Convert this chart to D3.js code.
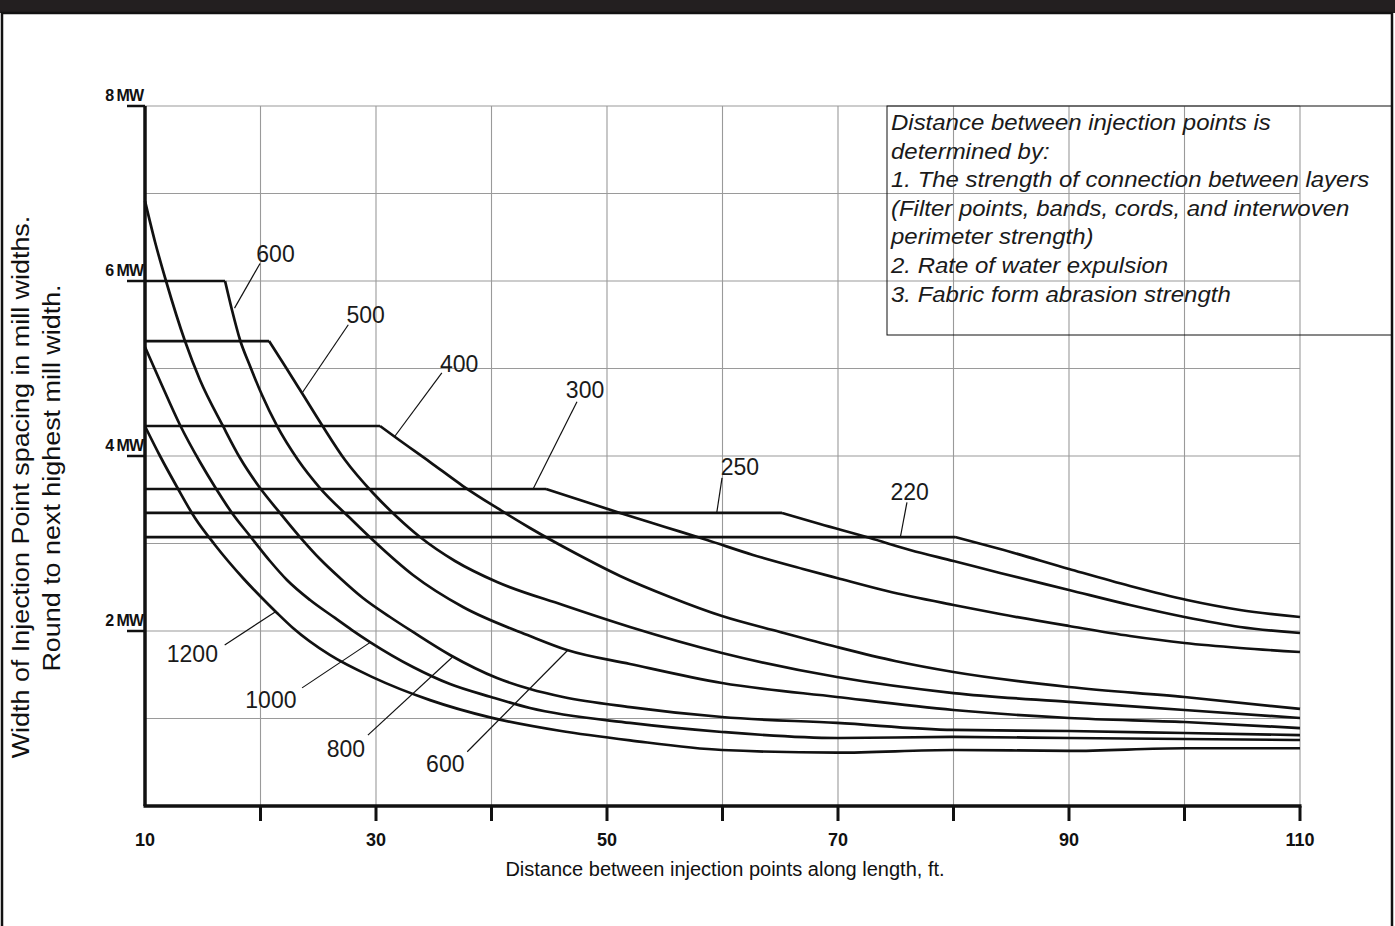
<!DOCTYPE html>
<html>
<head>
<meta charset="utf-8">
<script src="https://cdn.jsdelivr.net/npm/d3@7"></script>
<style>
  html, body { margin: 0; padding: 0; background: #fff; }
  svg { display: block; }
  text { font-family: "Liberation Sans", Arial, Helvetica, sans-serif; }
</style>
</head>
<body>
<svg id="chart" width="1395" height="926"></svg>
<script>
// ---------------- DATA (x = distance ft, y = width in mill widths) ----------------
const xTickValues = [10, 20, 30, 40, 50, 60, 70, 80, 90, 100, 110];
const xTickLabels = ["10", "", "30", "", "50", "", "70", "", "90", "", "110"];
const yTickValues = [2, 4, 6, 8];
const yTickLabels = ["2 MW", "4 MW", "6 MW", "8 MW"];
const yGridValues = [1, 2, 3, 4, 5, 6, 7, 8];

// series with a flat plateau (first two points are the plateau)
const s220 = [[10,3.074],[80.13,3.074],[84.03,2.937],[90,2.709],[95.28,2.514],[100.22,2.354],[104.81,2.24],[110,2.16]];
const s250 = [[10,3.349],[65.15,3.349],[68.44,3.223],[72.77,3.063],[76.23,2.926],[80,2.8],[84.03,2.663],[90,2.469],[95.28,2.297],[100,2.16],[104.81,2.046],[110,1.977]];
const s300 = [[10,3.623],[44.72,3.623],[47.66,3.497],[51.13,3.349],[55.02,3.189],[58.66,3.04],[62.64,2.869],[66.97,2.709],[69.91,2.606],[74.24,2.457],[80,2.297],[84.03,2.194],[90,2.057],[95.28,1.943],[100,1.863],[104.81,1.806],[110,1.76]];
const s400 = [[10,4.343],[30.35,4.343],[31.65,4.217],[34.68,3.931],[37.53,3.657],[40.48,3.406],[43.33,3.177],[47.23,2.891],[51.13,2.629],[55.45,2.389],[59.96,2.171],[64.98,1.989],[69.91,1.817],[74.94,1.657],[80,1.531],[90,1.36],[100,1.246],[110,1.109]];
const s500 = [[10,5.314],[20.74,5.314],[22.12,5.029],[23.59,4.72],[25.32,4.354],[27.32,3.954],[29.74,3.577],[31.82,3.303],[33.81,3.074],[36.84,2.8],[40.48,2.56],[46.19,2.297],[51.99,2.046],[59.96,1.749],[69.91,1.474],[80,1.291],[90,1.189],[100,1.097],[110,1.006]];
const s600 = [[10,6.0],[16.93,6.0],[17.53,5.669],[18.23,5.326],[19.09,5.029],[20.13,4.697],[21.43,4.343],[23.25,3.954],[25.15,3.634],[27.75,3.291],[29.91,3.017],[33.2,2.64],[37.53,2.274],[43.33,1.943],[46.54,1.783],[51.99,1.623],[59.96,1.406],[69.91,1.246],[80,1.097],[90,1.006],[100,0.96],[110,0.891]];
// series without plateau
const s800 = [[10,6.914],[10.87,6.446],[11.82,6.0],[13.46,5.314],[14.76,4.869],[16.75,4.343],[18.23,3.977],[19.96,3.634],[21.69,3.349],[23.42,3.074],[25.15,2.823],[26.88,2.606],[28.87,2.377],[31.21,2.16],[33.2,1.989],[36.41,1.726],[40.48,1.463],[43.33,1.337],[46.19,1.246],[51.99,1.131],[59.96,1.017],[69.91,0.949],[80,0.869],[90,0.857],[100,0.834],[110,0.811]];
const s1000 = [[10,5.246],[11.3,4.857],[13.03,4.354],[14.76,3.931],[16.06,3.646],[17.53,3.349],[19.09,3.086],[20.82,2.8],[22.29,2.583],[24.29,2.354],[26.45,2.149],[27.92,2.011],[29.48,1.874],[33.2,1.589],[36.41,1.394],[39.96,1.246],[43.33,1.12],[51.99,0.949],[59.96,0.846],[69.91,0.777],[80,0.789],[90,0.777],[100,0.766],[110,0.754]];
const s1200 = [[10,4.34],[11.3,4.0],[12.77,3.646],[14.33,3.291],[16.06,2.983],[18.48,2.606],[19.96,2.4],[21.43,2.206],[22.81,2.034],[26.0,1.726],[29.74,1.47],[34.68,1.21],[39.96,1.01],[45.9,0.86],[52,0.75],[59.96,0.64],[69.9,0.61],[80,0.64],[90,0.63],[100,0.66],[110,0.66]];

const plateauSeries = [s220, s250, s300, s400, s500, s600];
const plainSeries = [s800, s1000, s1200];

// curve labels: text, text anchor point (x,y), leader start, leader end (data units)
const curveLabels = [
  { text: "600",  tx: 21.3, ty: 6.22, x1: 19.96, y1: 6.20, x2: 17.75, y2: 5.69 },
  { text: "500",  tx: 29.1, ty: 5.52, x1: 27.6, y1: 5.50, x2: 23.6, y2: 4.72 },
  { text: "400",  tx: 37.2, ty: 4.96, x1: 35.7, y1: 4.95, x2: 31.6, y2: 4.22 },
  { text: "300",  tx: 48.1, ty: 4.66, x1: 47.4, y1: 4.62, x2: 43.6, y2: 3.623 },
  { text: "250",  tx: 61.5, ty: 3.78, x1: 59.96, y1: 3.75, x2: 59.5, y2: 3.349 },
  { text: "220",  tx: 76.2, ty: 3.50, x1: 75.97, y1: 3.47, x2: 75.4, y2: 3.074 },
  { text: "1200", tx: 14.1, ty: 1.65, x1: 16.9, y1: 1.84, x2: 21.3, y2: 2.22 },
  { text: "1000", tx: 20.9, ty: 1.12, x1: 23.6, y1: 1.35, x2: 29.5, y2: 1.87 },
  { text: "800",  tx: 27.4, ty: 0.56, x1: 29.3, y1: 0.81, x2: 36.6, y2: 1.70 },
  { text: "600",  tx: 36.0, ty: 0.39, x1: 37.9, y1: 0.62, x2: 46.6, y2: 1.78 }
];

const xAxisTitle = "Distance between injection points along length, ft.";
const yAxisTitle = ["Width of Injection Point spacing in mill widths.", "Round to next highest mill width."];
const noteLines = [
  "Distance between injection points is",
  "determined by:",
  "1. The strength of connection between layers",
  "(Filter points, bands, cords, and interwoven",
  "perimeter strength)",
  "2. Rate of water expulsion",
  "3. Fabric form abrasion strength"
];

// ---------------- DRAWING ----------------
const svg = d3.select("#chart");
const W = 1395, H = 926;
const plot = { left: 145, right: 1300, top: 106, bottom: 806 };

const x = d3.scaleLinear().domain([10, 110]).range([plot.left, plot.right]);
const y = d3.scaleLinear().domain([0, 8]).range([plot.bottom, plot.top]);

// background + frame
svg.append("rect").attr("width", W).attr("height", H).attr("fill", "#fff");
svg.append("rect").attr("x", 0).attr("y", 0).attr("width", W).attr("height", 13).attr("fill", "#231f20");
svg.append("rect").attr("x", 2).attr("y", 13).attr("width", 1390).attr("height", 920)
  .attr("fill", "none").attr("stroke", "#111").attr("stroke-width", 2.5);

// grid
const grid = svg.append("g").attr("stroke", "#9a9a9a").attr("stroke-width", 1.1);
grid.selectAll("line.h").data(yGridValues).join("line")
  .attr("x1", x(10)).attr("x2", x(110))
  .attr("y1", d => y(d)).attr("y2", d => y(d));
grid.selectAll("line.v").data(xTickValues.slice(1)).join("line")
  .attr("x1", d => x(d)).attr("x2", d => x(d))
  .attr("y1", y(8)).attr("y2", y(0));

// note box
const box = svg.append("g");
box.append("rect").attr("x", 887).attr("y", 106).attr("width", 505).attr("height", 229)
  .attr("fill", "none").attr("stroke", "#111").attr("stroke-width", 1);
box.selectAll("text").data(noteLines).join("text")
  .attr("transform", (d, i) => `translate(891,${130 + i * 28.6}) scale(1.1,1)`)
  .attr("font-size", 21.8).attr("font-style", "italic").attr("fill", "#1a1a1a")
  .text(d => d);

// curves
const lineSmooth = d3.line().x(d => x(d[0])).y(d => y(d[1])).curve(d3.curveMonotoneX);
const lineStraight = d3.line().x(d => x(d[0])).y(d => y(d[1]));
const curves = svg.append("g").attr("fill", "none").attr("stroke", "#111").attr("stroke-width", 2.7)
  .attr("stroke-linejoin", "round");
plateauSeries.forEach(s => {
  curves.append("path").attr("d", lineStraight(s.slice(0, 2)));
  curves.append("path").attr("d", lineSmooth(s.slice(1)));
});
plainSeries.forEach(s => {
  curves.append("path").attr("d", lineSmooth(s));
});

// axes
const axes = svg.append("g").attr("stroke", "#111");
axes.append("line").attr("x1", x(10)).attr("x2", x(10)).attr("y1", y(8)).attr("y2", y(0)).attr("stroke-width", 3.5);
axes.append("line").attr("x1", x(10) - 1.5).attr("x2", x(110) + 1.5).attr("y1", y(0)).attr("y2", y(0)).attr("stroke-width", 3.5);
axes.selectAll("line.xt").data(xTickValues.slice(1)).join("line")
  .attr("x1", d => x(d)).attr("x2", d => x(d))
  .attr("y1", y(0)).attr("y2", y(0) + 15).attr("stroke-width", 3);
axes.selectAll("line.yt").data(yTickValues).join("line")
  .attr("x1", x(10) - 18).attr("x2", x(10))
  .attr("y1", d => y(d)).attr("y2", d => y(d)).attr("stroke-width", 2.5);

svg.append("g").selectAll("text").data(xTickValues).join("text")
  .attr("x", d => x(d)).attr("y", y(0) + 40)
  .attr("text-anchor", "middle").attr("font-size", 18).attr("font-weight", "bold").attr("fill", "#111")
  .text((d, i) => xTickLabels[i]);
svg.append("g").selectAll("text").data(yTickValues).join("text")
  .attr("x", x(10) - 2).attr("y", d => y(d) - 5)
  .attr("text-anchor", "end").attr("font-size", 16).attr("font-weight", "bold")
  .attr("letter-spacing", "-1").attr("fill", "#111")
  .text((d, i) => yTickLabels[i]);

// curve labels
const lab = svg.append("g");
lab.selectAll("line").data(curveLabels).join("line")
  .attr("x1", d => x(d.x1)).attr("y1", d => y(d.y1))
  .attr("x2", d => x(d.x2)).attr("y2", d => y(d.y2))
  .attr("stroke", "#111").attr("stroke-width", 1.2);
lab.selectAll("text").data(curveLabels).join("text")
  .attr("x", d => x(d.tx)).attr("y", d => y(d.ty))
  .attr("text-anchor", "middle").attr("font-size", 23).attr("fill", "#1a1a1a")
  .text(d => d.text);

// axis titles
svg.append("text").attr("x", 725).attr("y", 876).attr("text-anchor", "middle")
  .attr("font-size", 20).attr("fill", "#111").text(xAxisTitle);
svg.append("g").selectAll("text").data(yAxisTitle).join("text")
  .attr("transform", (d, i) => i === 0 ? "translate(29,487) rotate(-90) scale(1.17,1)" : "translate(60,478) rotate(-90) scale(1.17,1)")
  .attr("text-anchor", "middle").attr("font-size", 23).attr("fill", "#111")
  .text(d => d);
</script>
</body>
</html>
